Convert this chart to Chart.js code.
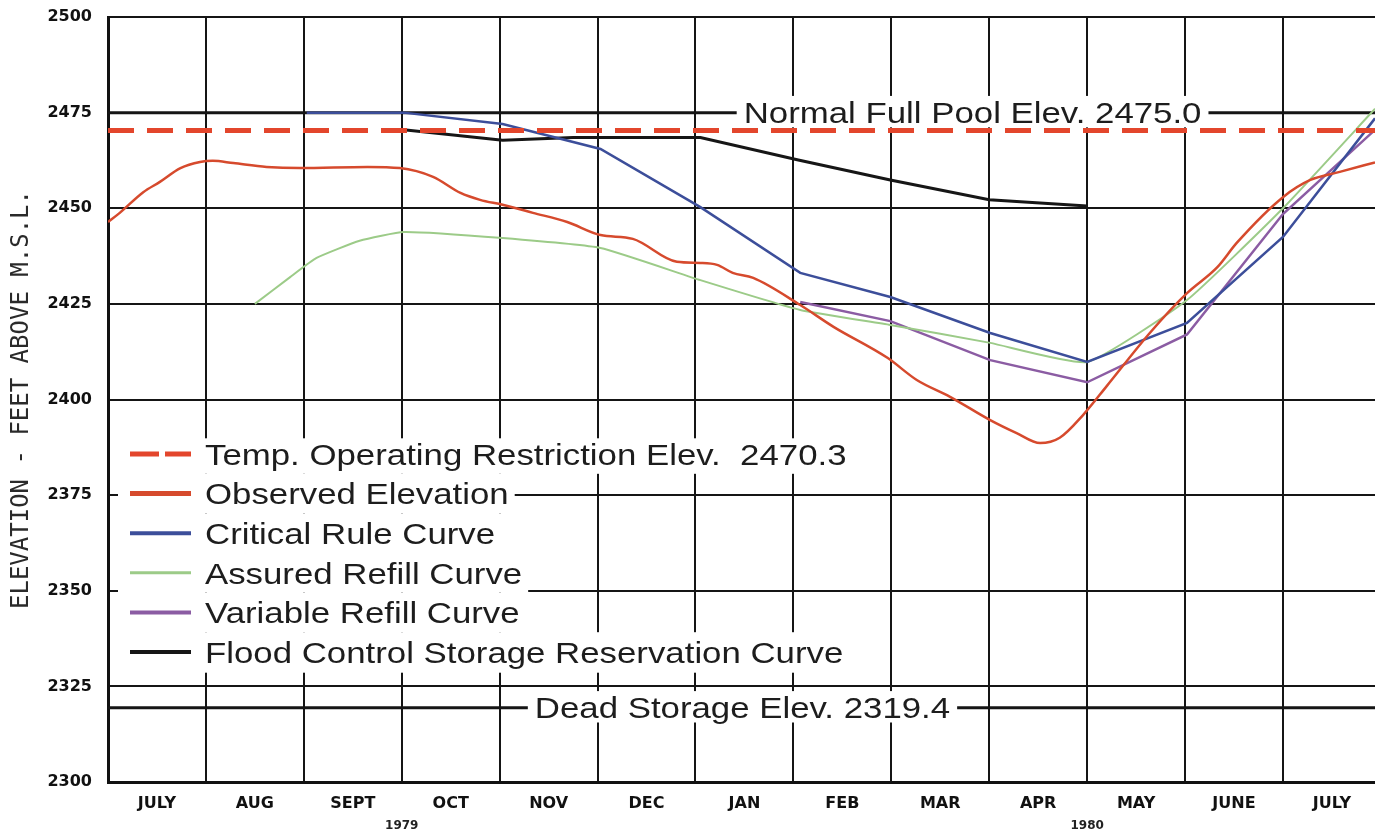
<!DOCTYPE html>
<html>
<head>
<meta charset="utf-8">
<title>Reservoir Elevation 1979-1980</title>
<script src="https://cdn.jsdelivr.net/npm/chart.js@4.4.1/dist/chart.umd.min.js"></script>
<style>
  html, body { margin: 0; padding: 0; background: #ffffff; }
  #wrap { width: 1375px; height: 835px; position: relative; }
</style>
</head>
<body>
<div id="wrap"><canvas id="chart"></canvas></div>
<script>
// Horizontal axis: months counted from the start of July 1979 (gridlines on month boundaries).
const monthLabels = ['JULY', 'AUG', 'SEPT', 'OCT', 'NOV', 'DEC', 'JAN', 'FEB', 'MAR', 'APR', 'MAY', 'JUNE', 'JULY'];
const yearLabels = ['1979', '1980'];
const yearBoundaries = [3, 10];
const monthSpan = 12.94;
const elevationTicks = [2300, 2325, 2350, 2375, 2400, 2425, 2450, 2475, 2500];

// Reference elevations (feet above M.S.L.)
const normalFullPool = 2475.0;
const tempRestriction = 2470.3;
const deadStorage = 2319.4;

// Observed elevation
const observedMonth = [0.00, 0.12, 0.36, 0.53, 0.74, 0.94, 1.07, 1.28, 1.62, 1.96, 2.65, 2.98, 3.32, 3.60, 3.80, 4.03, 4.34, 4.69, 5.03, 5.36, 5.81, 6.05, 6.22, 6.38, 6.59, 7.07, 7.41, 7.96, 8.26, 8.60, 9.01, 9.28, 9.52, 9.72, 9.96, 10.20, 10.64, 11.02, 11.33, 11.53, 12.00, 12.28, 12.58, 12.94];
const observedElev  = [2446.4, 2448.8, 2454.2, 2456.9, 2460.5, 2462.1, 2462.4, 2461.8, 2460.8, 2460.5, 2460.8, 2460.5, 2458.2, 2454.0, 2452.2, 2450.9, 2448.8, 2446.4, 2443.0, 2442.0, 2436.0, 2435.7, 2435.2, 2433.1, 2431.8, 2424.7, 2419.0, 2410.9, 2405.1, 2400.7, 2394.6, 2391.2, 2388.6, 2390.0, 2396.0, 2403.5, 2417.4, 2427.8, 2434.6, 2441.0, 2452.9, 2457.4, 2459.5, 2462.0];

// Critical rule curve
const criticalMonth = [2.03, 3.02, 4.03, 5.03, 6.05, 7.07, 7.99, 9.01, 10.00, 11.02, 12.00, 12.94];
const criticalElev  = [2475.0, 2475.0, 2472.0, 2465.5, 2450.3, 2433.1, 2426.8, 2417.4, 2409.8, 2420.0, 2442.5, 2473.5];

// Assured refill curve
const assuredMonth = [1.50, 1.86, 2.13, 2.57, 3.02, 4.03, 5.03, 6.05, 7.07, 7.99, 9.01, 10.00, 11.02, 12.00, 12.94];
const assuredElev  = [2425.0, 2432.0, 2437.0, 2441.5, 2443.8, 2442.2, 2439.6, 2431.2, 2423.4, 2419.5, 2414.8, 2409.8, 2426.0, 2450.0, 2476.0];

// Variable refill curve
const variableMonth = [7.07, 7.99, 9.01, 10.00, 11.02, 12.00, 12.94];
const variableElev  = [2425.5, 2420.5, 2410.3, 2404.5, 2417.0, 2448.5, 2470.5];

// Flood control storage reservation curve
const floodMonth = [3.02, 4.03, 4.75, 6.05, 7.05, 7.99, 9.00, 10.00];
const floodElev  = [2470.5, 2467.8, 2468.5, 2468.5, 2462.6, 2457.4, 2452.2, 2450.6];

const pts = (xs, ys) => xs.map((m, i) => ({ x: m, y: ys[i] }));
const flat = v => [{ x: 0, y: v }, { x: monthSpan, y: v }];

const TEXT_FONT = '30px "Liberation Sans", Arial, Helvetica, sans-serif';
const STRETCH = 1.16;
const CAP_HALF = 10.7;

function wideWidth(ctx, text) { return ctx.measureText(text).width * STRETCH; }
function drawWide(ctx, text, x, baseline) {
  ctx.save();
  ctx.translate(x, baseline);
  ctx.scale(STRETCH, 1);
  ctx.fillText(text, 0, 0);
  ctx.restore();
}

// Labels placed on the reference lines, with a white patch behind the text
const referenceLabels = {
  id: 'referenceLabels',
  afterDatasetsDraw(chart, args, opts) {
    const { ctx } = chart;
    const xs = chart.scales.x, ys = chart.scales.y;
    ctx.save();
    ctx.font = TEXT_FONT;
    ctx.textBaseline = 'alphabetic';
    for (const item of opts.items) {
      const w = wideWidth(ctx, item.text);
      const cx = xs.getPixelForValue(item.at);
      const cy = ys.getPixelForValue(item.value);
      ctx.fillStyle = '#ffffff';
      ctx.fillRect(cx - w / 2 - 7, cy - CAP_HALF - 6, w + 14, CAP_HALF * 2 + 10);
      ctx.fillStyle = '#1d1d1d';
      drawWide(ctx, item.text, cx - w / 2, cy + CAP_HALF);
    }
    ctx.restore();
  }
};

// Legend block drawn inside the plot area
const legendBlock = {
  id: 'legendBlock',
  afterDatasetsDraw(chart, args, opts) {
    const { ctx, chartArea } = chart;
    const items = chart.data.datasets.filter(d => d.inLegend !== false);
    const left = chartArea.left + opts.left;
    const sx0 = chartArea.left + opts.sampleStart;
    const sx1 = chartArea.left + opts.sampleEnd;
    const tx = chartArea.left + opts.textStart;
    const y0 = chartArea.top + opts.firstRow;
    const step = opts.rowStep;
    ctx.save();
    ctx.font = TEXT_FONT;
    items.forEach((d, i) => {
      const cy = y0 + i * step;
      const w = wideWidth(ctx, d.label);
      const right = Math.max(tx + w + 6, chartArea.left + opts.minRight);
      const top = i === 0 ? cy - CAP_HALF - 5 : cy - step / 2;
      const bottom = i === items.length - 1 ? cy + CAP_HALF + 10 : cy + step / 2;
      ctx.fillStyle = '#ffffff';
      ctx.fillRect(left, top, right - left, bottom - top);
    });
    items.forEach((d, i) => {
      const cy = y0 + i * step;
      ctx.save();
      ctx.strokeStyle = d.borderColor;
      ctx.lineWidth = d.legendWidth || 4;
      ctx.setLineDash(d.borderDash && d.borderDash.length ? [29, 6] : []);
      ctx.beginPath();
      ctx.moveTo(sx0, cy);
      ctx.lineTo(sx1, cy);
      ctx.stroke();
      ctx.restore();
      ctx.fillStyle = '#1d1d1d';
      drawWide(ctx, d.label, tx, cy + CAP_HALF);
    });
    ctx.restore();
  }
};

const line = (label, data, color, width, extra) => Object.assign({
  label, data, borderColor: color, backgroundColor: color, borderWidth: width,
  pointRadius: 0, tension: 0, fill: false
}, extra || {});

new Chart(document.getElementById('chart'), {
  type: 'line',
  data: {
    datasets: [
      line('Temp. Operating Restriction Elev.  ' + tempRestriction.toFixed(1), flat(tempRestriction), '#e3462c', 5, { borderDash: [26, 13], legendWidth: 5 }),
      line('Observed Elevation', pts(observedMonth, observedElev), '#d64a2d', 2.5, { tension: 0.25, cubicInterpolationMode: 'monotone', legendWidth: 5 }),
      line('Critical Rule Curve', pts(criticalMonth, criticalElev), '#3c4e9a', 2.5, { legendWidth: 4 }),
      line('Assured Refill Curve', pts(assuredMonth, assuredElev), '#9ccb88', 2, { tension: 0.15, legendWidth: 3 }),
      line('Variable Refill Curve', pts(variableMonth, variableElev), '#8b5ca3', 2.5, { legendWidth: 4 }),
      line('Flood Control Storage Reservation Curve', pts(floodMonth, floodElev), '#161616', 3, { legendWidth: 4 }),
      line('Normal Full Pool', flat(normalFullPool), '#151515', 3, { inLegend: false }),
      line('Dead Storage', flat(deadStorage), '#151515', 3, { inLegend: false })
    ]
  },
  options: {
    responsive: true,
    maintainAspectRatio: false,
    animation: false,
    layout: { padding: { top: 17, left: 0, right: 0, bottom: 0 } },
    plugins: {
      legend: { display: false },
      tooltip: { enabled: false },
      referenceLabels: {
        items: [
          { text: 'Normal Full Pool Elev. ' + normalFullPool.toFixed(1), value: normalFullPool, at: 8.83 },
          { text: 'Dead Storage Elev. ' + deadStorage.toFixed(1), value: deadStorage, at: 6.48 }
        ]
      },
      legendBlock: { left: 10, sampleStart: 22, sampleEnd: 83, textStart: 97, firstRow: 437, rowStep: 39.6, minRight: 400 }
    },
    scales: {
      x: {
        type: 'linear', position: 'bottom', min: 0, max: monthSpan, weight: 0,
        afterBuildTicks: s => { s.ticks = monthLabels.map((_, i) => ({ value: i })); },
        ticks: { display: false },
        grid: { color: '#151515', lineWidth: 2, drawTicks: false },
        border: { display: true, color: '#111111', width: 3 },
        afterFit: s => { s.height = 0; }
      },
      xm: {
        type: 'linear', position: 'bottom', min: 0, max: monthSpan, weight: 1,
        afterBuildTicks: s => { s.ticks = monthLabels.map((_, i) => ({ value: i + 0.5 })); },
        ticks: {
          autoSkip: false, maxRotation: 0, padding: 12, color: '#111111',
          font: { family: '"DejaVu Sans", sans-serif', weight: 'bold', size: 16 },
          callback: (v, i) => monthLabels[i]
        },
        grid: { display: false, drawTicks: false },
        border: { display: false },
        afterFit: s => { s.height = 32; }
      },
      xy: {
        type: 'linear', position: 'bottom', min: 0, max: monthSpan, weight: 2,
        afterBuildTicks: s => { s.ticks = yearBoundaries.map(v => ({ value: v })); },
        ticks: {
          autoSkip: false, maxRotation: 0, padding: 5, color: '#222222',
          font: { family: '"DejaVu Sans", sans-serif', weight: 'bold', size: 12 },
          callback: (v, i) => yearLabels[i]
        },
        grid: { display: false, drawTicks: false },
        border: { display: false },
        afterFit: s => { s.height = 21; }
      },
      y: {
        type: 'linear', min: 2300, max: 2500,
        afterBuildTicks: s => { s.ticks = elevationTicks.map(v => ({ value: v })); },
        ticks: {
          padding: 16, color: '#111111',
          font: { family: '"DejaVu Sans", sans-serif', weight: 'bold', size: 16 },
          callback: v => String(v)
        },
        grid: { color: '#151515', lineWidth: 2, drawTicks: false },
        border: { display: true, color: '#111111', width: 3 },
        title: {
          display: true, text: 'ELEVATION - FEET ABOVE M.S.L.', color: '#2a2a2a',
          font: { family: '"DejaVu Sans Mono", monospace', size: 24, lineHeight: 1 },
          padding: { top: 10, bottom: 0 }
        },
        afterFit: s => { s.width = 108; s.paddingTop = 0; s.paddingBottom = 0; }
      }
    }
  },
  plugins: [referenceLabels, legendBlock]
});
</script>
</body>
</html>
